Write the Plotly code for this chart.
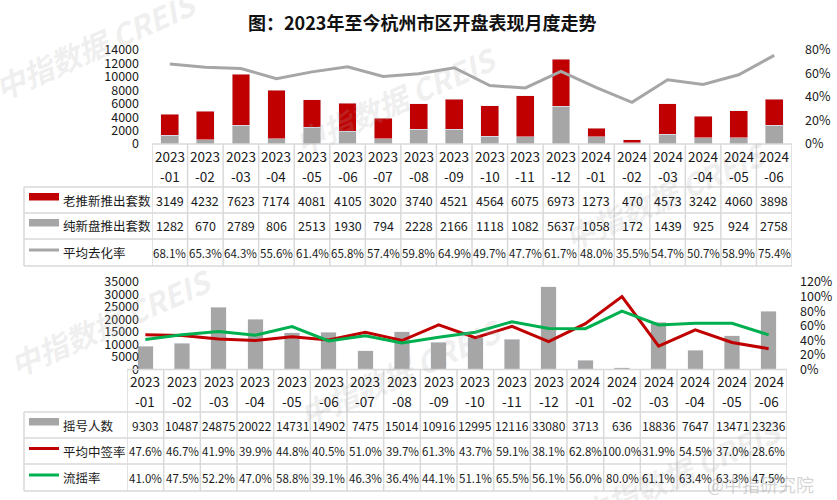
import plotly.graph_objects as go

# 月份
months = ["2023-01", "2023-02", "2023-03", "2023-04", "2023-05", "2023-06",
          "2023-07", "2023-08", "2023-09", "2023-10", "2023-11", "2023-12",
          "2024-01", "2024-02", "2024-03", "2024-04", "2024-05", "2024-06"]

# 上图：开盘
old_new_units = [3149, 4232, 7623, 7174, 4081, 4105, 3020, 3740, 4521,
                 4564, 6075, 6973, 1273, 470, 4573, 3242, 4060, 3898]
new_units = [1282, 670, 2789, 806, 2513, 1930, 794, 2228, 2166,
             1118, 1082, 5637, 1058, 172, 1439, 925, 924, 2758]
sell_rate = [68.1, 65.3, 64.3, 55.6, 61.4, 65.8, 57.4, 59.8, 64.9,
             49.7, 47.7, 61.7, 48.0, 35.5, 54.7, 50.7, 58.9, 75.4]

# 下图：摇号
lottery_people = [9303, 10487, 24875, 20022, 14731, 14902, 7475, 15014, 10916,
                  12995, 12116, 33080, 3713, 636, 18836, 7647, 13471, 23236]
win_rate = [47.6, 46.7, 41.9, 39.9, 44.8, 40.5, 51.0, 39.7, 61.3,
            43.7, 59.1, 38.1, 62.8, 100.0, 31.9, 54.5, 37.0, 28.6]
flow_rate = [41.0, 47.5, 52.2, 47.0, 58.8, 39.1, 46.3, 36.4, 44.1,
             51.1, 65.5, 56.1, 56.0, 80.0, 61.1, 63.4, 63.3, 47.5]

RED = "#c00000"
GRAY = "#a6a6a6"
GREEN = "#00b050"
GRID = "#d9d9d9"
TXT = "#1a1a1a"
FONT = "Noto Sans CJK SC"
W, H = 837, 500


def px(x):
    return x / W


def py(y):
    return 1 - y / H


def note(**kw):
    # plain text, always centred unless told otherwise
    kw.setdefault("xanchor", "center")
    kw.setdefault("yanchor", "middle")
    kw.setdefault("yref", "paper")
    fig.add_annotation(showarrow=False, **kw)


fig = go.Figure()

# top chart
fig.add_trace(go.Bar(x=months, y=new_units, name="纯新盘推出套数", marker_color=GRAY,
                     width=0.5, xaxis="x", yaxis="y"))
fig.add_trace(go.Bar(x=months, y=old_new_units, name="老推新推出套数", marker_color=RED,
                     width=0.5, xaxis="x", yaxis="y"))
fig.add_trace(go.Scatter(x=months, y=sell_rate, name="平均去化率", mode="lines",
                         line=dict(color=GRAY, width=3), xaxis="x", yaxis="y2"))

# bottom chart
fig.add_trace(go.Bar(x=months, y=lottery_people, name="摇号人数", marker_color=GRAY,
                     width=0.42, xaxis="x2", yaxis="y3"))
fig.add_trace(go.Scatter(x=months, y=win_rate, name="平均中签率", mode="lines",
                         line=dict(color=RED, width=3), xaxis="x2", yaxis="y4"))
fig.add_trace(go.Scatter(x=months, y=flow_rate, name="流摇率", mode="lines",
                         line=dict(color=GREEN, width=3), xaxis="x2", yaxis="y4"))

tick_font = dict(family=FONT, size=12.5, color=TXT)
yax = dict(showgrid=False, zeroline=False, showline=False, ticks="",
           tickfont=tick_font, ticklabelstandoff=12, fixedrange=True)

fig.update_layout(
    width=W, height=H, autosize=False,
    margin=dict(l=0, r=0, t=0, b=0, autoexpand=False),
    paper_bgcolor="white", plot_bgcolor="white",
    font=dict(family=FONT, color=TXT),
    barmode="stack", showlegend=False,
    xaxis=dict(domain=[px(152), px(792)], anchor="y", type="category",
               range=[-0.5, 17.5], showticklabels=False, showgrid=False,
               showline=False, zeroline=False),
    yaxis=dict(domain=[py(144), py(50)], range=[0, 14000], dtick=2000,
               tickformat="d", **yax),
    yaxis2=dict(overlaying="y", side="right", anchor="x", range=[0, 80],
                dtick=20, ticksuffix="%", **yax),
    xaxis2=dict(domain=[px(127), px(787)], anchor="y3", type="category",
                range=[-0.5, 17.5], showticklabels=False, showgrid=False,
                showline=False, zeroline=False),
    yaxis3=dict(domain=[py(369.5), py(282)], range=[0, 35000], dtick=5000,
                tickformat="d", **yax),
    yaxis4=dict(overlaying="y3", side="right", anchor="x2", range=[0, 120],
                dtick=20, ticksuffix="%", **yax),
)

# watermarks
wm_font = dict(family=FONT, size=30, color="rgba(170,170,170,0.2)",
               weight="bold", style="italic")
for cx, cy in [(95, 45), (395, 100), (665, 195), (110, 322), (400, 372), (680, 472)]:
    note(x=px(cx), y=py(cy), xref="paper", text="中指数据 CREIS", textangle=-24,
         font=wm_font)

# title
note(x=px(422), y=py(22), xref="paper",
     text="<b>图：2023年至今杭州市区开盘表现月度走势</b>",
     font=dict(family=FONT, size=18, color="#111"))


def add_table(xref, x_left, x_right, y_axis, y_head, y_rows, rows, label_left=24):
    grid = dict(color=GRID, width=1.5)
    head_font = dict(family=FONT, size=13.5, color=TXT)
    for m in months:
        yr, mm = m.split("-")
        note(x=m, y=py(y_head[0]), xref=xref, text=yr, font=head_font)
        note(x=m, y=py(y_head[1]), xref=xref, text="-" + mm, font=head_font)
    fig.add_shape(type="line", xref="paper", yref="paper", x0=px(x_left), x1=px(x_right),
                  y0=py(y_axis), y1=py(y_axis), line=grid)
    for yb in y_rows:
        fig.add_shape(type="line", xref="paper", yref="paper", x0=px(label_left),
                      x1=px(x_right), y0=py(yb), y1=py(yb), line=grid)
    for k in range(len(months) + 1):
        fig.add_shape(type="line", xref=xref, yref="paper", x0=k - 0.5, x1=k - 0.5,
                      y0=py(y_axis), y1=py(y_rows[-1]), line=grid)
    fig.add_shape(type="line", xref="paper", yref="paper", x0=px(label_left),
                  x1=px(label_left), y0=py(y_rows[0]), y1=py(y_rows[-1]), line=grid)

    for r, (label, kind, color, texts, size) in enumerate(rows):
        yc = (y_rows[r] + y_rows[r + 1]) / 2
        if kind == "rect":
            fig.add_shape(type="rect", xref="paper", yref="paper", x0=px(29), x1=px(59),
                          y0=py(yc + 0.5), y1=py(yc - 7), fillcolor=color,
                          line=dict(width=0))
        else:
            fig.add_shape(type="line", xref="paper", yref="paper", x0=px(29), x1=px(59),
                          y0=py(yc - 2.5), y1=py(yc - 2.5), line=dict(color=color, width=3))
        note(x=px(61), y=py(yc), xref="paper", text=label, xanchor="left",
             font=dict(family=FONT, size=12.5, color=TXT))
        for m, t in zip(months, texts):
            note(x=m, y=py(yc), xref=xref, text=t,
                 font=dict(family=FONT, size=size, color=TXT))


add_table("x", 152, 792, 144, (156, 176), [187, 213, 239, 266], [
    ("老推新推出套数", "rect", RED, [str(v) for v in old_new_units], 12.5),
    ("纯新盘推出套数", "rect", GRAY, [str(v) for v in new_units], 12.5),
    ("平均去化率", "line", GRAY, [f"{v:.1f}%" for v in sell_rate], 11.5),
])

add_table("x2", 127, 787, 369.5, (381, 401), [412, 438, 464, 491], [
    ("摇号人数", "rect", GRAY, [str(v) for v in lottery_people], 12),
    ("平均中签率", "line", RED, [f"{v:.1f}%" for v in win_rate], 11.5),
    ("流摇率", "line", GREEN, [f"{v:.1f}%" for v in flow_rate], 11.5),
])

# weibo mark
note(x=px(760), y=py(484), xref="paper", text="@中指研究院",
     font=dict(family=FONT, size=18, color="rgba(160,160,160,0.45)"))

fig.write_html("out.html", config={"displayModeBar": False},
               post_script="document.body.style.margin='0';")
